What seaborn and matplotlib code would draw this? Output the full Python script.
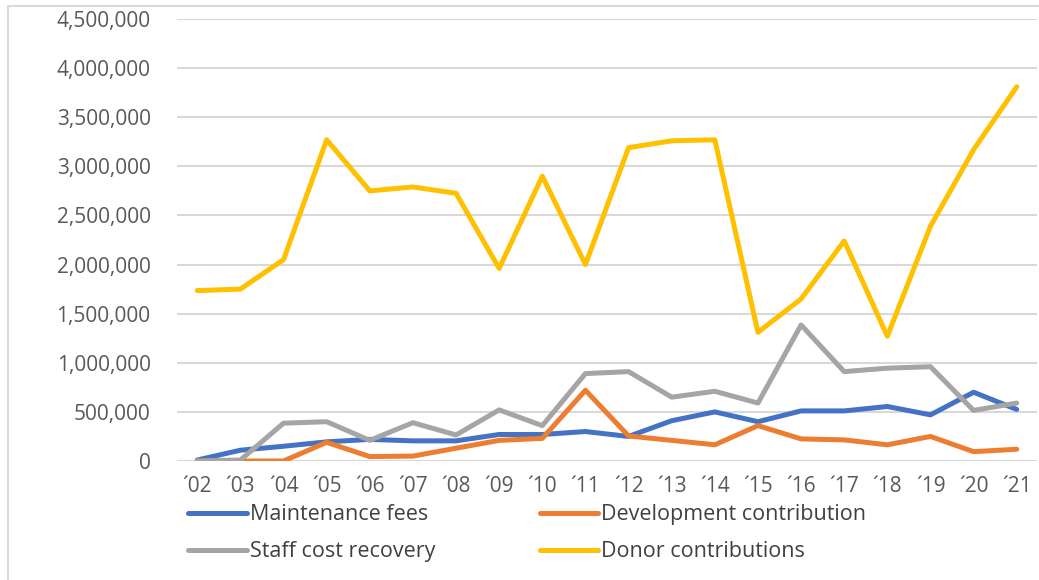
import pandas as pd
import matplotlib.pyplot as plt
import seaborn as sns
from matplotlib.lines import Line2D

# Data
years = ["´02", "´03", "´04", "´05", "´06", "´07", "´08", "´09", "´10", "´11",
         "´12", "´13", "´14", "´15", "´16", "´17", "´18", "´19", "´20", "´21"]

maintenance_fees = [10000, 110000, 150000, 195000, 220000, 205000, 205000, 270000, 270000, 300000,
                    250000, 410000, 500000, 400000, 510000, 510000, 555000, 470000, 700000, 525000]
development_contribution = [0, 0, 0, 190000, 45000, 50000, 130000, 210000, 230000, 720000,
                            255000, 210000, 165000, 360000, 225000, 215000, 165000, 250000, 95000, 120000]
staff_cost_recovery = [0, 10000, 385000, 400000, 210000, 390000, 265000, 520000, 360000, 890000,
                       910000, 650000, 710000, 590000, 1385000, 910000, 945000, 960000, 515000, 590000]
donor_contributions = [1735000, 1750000, 2050000, 3270000, 2750000, 2790000, 2725000, 1960000, 2900000, 2000000,
                       3190000, 3260000, 3270000, 1310000, 1650000, 2240000, 1270000, 2390000, 3170000, 3810000]

series_names = ["Maintenance fees", "Development contribution",
                "Staff cost recovery", "Donor contributions"]
colors = ["#4472C4", "#ED7D31", "#A5A5A5", "#FFC000"]

df = pd.DataFrame({
    "year": years * 4,
    "value": maintenance_fees + development_contribution + staff_cost_recovery + donor_contributions,
    "series": sum([[n] * len(years) for n in series_names], []),
})
df["x"] = df.groupby("series").cumcount()

sns.set_theme(style="white")
plt.rcParams["font.family"] = ["Open Sans", "DejaVu Sans"]

fig = plt.figure(figsize=(10.39, 5.8), dpi=100)
ax = fig.add_axes([177 / 1039, 1 - 461 / 580, (1037 - 177) / 1039, (461 - 19) / 580])

sns.lineplot(data=df, x="x", y="value", hue="series", hue_order=series_names,
             palette=colors, linewidth=3.6, ax=ax, legend=False, zorder=3)

ax.set_xlim(-0.47, 19.47)
ax.set_ylim(0, 4500000)
ax.set_yticks(range(0, 4500001, 500000))
ax.set_yticklabels([f"{v:,}" for v in range(0, 4500001, 500000)])
ax.set_xticks(range(len(years)))
ax.set_xticklabels(years)
ax.yaxis.grid(True, color="#D9D9D9", linewidth=1.5)
ax.set_axisbelow(True)
for s in ax.spines.values():
    s.set_visible(False)
ax.tick_params(axis="y", length=0, pad=19, labelsize=15, labelcolor="#595959")
ax.tick_params(axis="x", length=0, pad=11, labelsize=15, labelcolor="#595959")
ax.set_xlabel("")
ax.set_ylabel("")

# legend: two columns, filled row by row like the original
handles = [Line2D([0], [0], color=c, linewidth=3.6, solid_capstyle="round") for c in colors]
order = [0, 2, 1, 3]
fig.legend([handles[i] for i in order], [series_names[i] for i in order],
           loc="upper left", bbox_to_anchor=(169 / 1039, 1 - 485 / 580),
           ncol=2, frameon=False, fontsize=15.5, handlelength=2.7, handletextpad=0.15,
           columnspacing=4.85, labelspacing=0.74, labelcolor="#404040")

# light chart frame
fig.add_artist(Line2D([8 / 1039, 8 / 1039], [0, 1 - 6 / 580], color="#D9D9D9", linewidth=1.5))
fig.add_artist(Line2D([8 / 1039, 1], [1 - 6 / 580, 1 - 6 / 580], color="#D9D9D9", linewidth=1.5))

fig.savefig("out.png", dpi=100)
